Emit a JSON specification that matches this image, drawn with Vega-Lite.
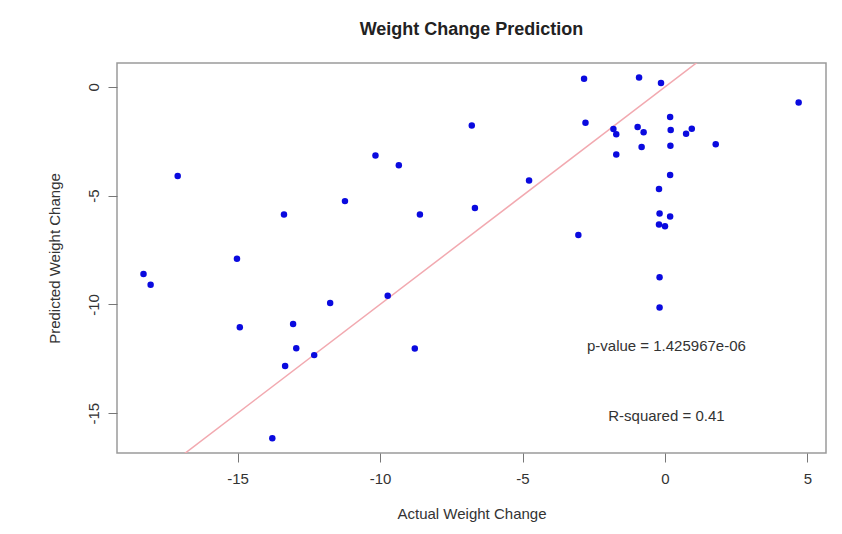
{
  "$schema": "https://vega.github.io/schema/vega-lite/v6.json",
  "width": 709,
  "height": 390,
  "autosize": {"type": "none"},
  "padding": {"left": 117, "top": 63, "right": 16, "bottom": 81},
  "background": "white",
  "title": {
    "text": "Weight Change Prediction",
    "fontSize": 18,
    "fontWeight": "bold",
    "font": "Liberation Sans",
    "color": "#222222",
    "anchor": "middle",
    "offset": 24
  },
  "config": {
    "font": "Liberation Sans",
    "view": {"stroke": "#9a9a9a", "strokeWidth": 1.5, "fill": "white"},
    "axis": {
      "grid": false,
      "domain": false,
      "tickColor": "#777777",
      "tickSize": 9,
      "tickWidth": 1,
      "labelFont": "Liberation Sans",
      "labelFontSize": 15,
      "labelColor": "#333333",
      "titleFont": "Liberation Sans",
      "titleFontSize": 15,
      "titleFontWeight": "normal",
      "titleColor": "#333333"
    }
  },
  "datasets": {
    "points": [
      {"actual": -18.3, "predicted": -8.6},
      {"actual": -18.05, "predicted": -9.1},
      {"actual": -17.1, "predicted": -4.1},
      {"actual": -15.02, "predicted": -7.9},
      {"actual": -14.92, "predicted": -11.05},
      {"actual": -13.37, "predicted": -5.86},
      {"actual": -13.33, "predicted": -12.83},
      {"actual": -13.78, "predicted": -16.15},
      {"actual": -13.05, "predicted": -10.9},
      {"actual": -12.94, "predicted": -12.01},
      {"actual": -12.31, "predicted": -12.33},
      {"actual": -11.75, "predicted": -9.93},
      {"actual": -11.23, "predicted": -5.25},
      {"actual": -10.16, "predicted": -3.15},
      {"actual": -9.73, "predicted": -9.6},
      {"actual": -9.34, "predicted": -3.6},
      {"actual": -8.78, "predicted": -12.03},
      {"actual": -8.6, "predicted": -5.87},
      {"actual": -6.78, "predicted": -1.77},
      {"actual": -6.67, "predicted": -5.57},
      {"actual": -4.77, "predicted": -4.3},
      {"actual": -3.04, "predicted": -6.81},
      {"actual": -2.84, "predicted": 0.38},
      {"actual": -2.79, "predicted": -1.65},
      {"actual": -0.91, "predicted": 0.43},
      {"actual": -0.14, "predicted": 0.18},
      {"actual": 4.69, "predicted": -0.72},
      {"actual": 0.18, "predicted": -1.38},
      {"actual": -1.81, "predicted": -1.93},
      {"actual": -1.71, "predicted": -2.18},
      {"actual": -0.96, "predicted": -1.84},
      {"actual": -0.75, "predicted": -2.08},
      {"actual": 0.2, "predicted": -1.98},
      {"actual": 0.74, "predicted": -2.15},
      {"actual": 0.94, "predicted": -1.92},
      {"actual": 1.78, "predicted": -2.64},
      {"actual": -1.71, "predicted": -3.11},
      {"actual": -0.82, "predicted": -2.76},
      {"actual": 0.19, "predicted": -2.7},
      {"actual": 0.18, "predicted": -4.05},
      {"actual": -0.21, "predicted": -4.69},
      {"actual": -0.19, "predicted": -5.82},
      {"actual": 0.18, "predicted": -5.96},
      {"actual": -0.21, "predicted": -6.33},
      {"actual": 0.0, "predicted": -6.41},
      {"actual": -0.19, "predicted": -8.75},
      {"actual": -0.19, "predicted": -10.14}
    ],
    "refline": [
      {"actual": -20, "predicted": -20},
      {"actual": 6, "predicted": 6}
    ],
    "notes": [
      {"actual": 0.05, "predicted": -11.9, "label": "p-value = 1.425967e-06"},
      {"actual": 0.05, "predicted": -15.15, "label": "R-squared = 0.41"}
    ]
  },
  "encoding": {
    "x": {
      "field": "actual",
      "type": "quantitative",
      "title": "Actual Weight Change",
      "scale": {"domain": [-19.23, 5.65], "nice": false, "zero": false},
      "axis": {"values": [-15, -10, -5, 0, 5], "labelExpr": "'' + datum.value", "labelPadding": 9, "titlePadding": 20}
    },
    "y": {
      "field": "predicted",
      "type": "quantitative",
      "title": "Predicted Weight Change",
      "scale": {"domain": [-16.83, 1.1], "nice": false, "zero": false},
      "axis": {"values": [0, -5, -10, -15], "labelExpr": "'' + datum.value", "labelAngle": -90, "labelAlign": "center", "labelBaseline": "bottom", "labelPadding": 7, "titlePadding": 24}
    }
  },
  "layer": [
    {
      "data": {"name": "refline"},
      "mark": {"type": "line", "color": "#f2a9b0", "strokeWidth": 1.5, "clip": true},
      "encoding": {}
    },
    {
      "data": {"name": "points"},
      "mark": {"type": "circle", "color": "#0a0adf", "opacity": 1, "size": 42}
    },
    {
      "data": {"name": "notes"},
      "mark": {"type": "text", "fontSize": 15, "color": "#333333", "align": "center", "baseline": "middle", "font": "Liberation Sans"},
      "encoding": {"text": {"field": "label", "type": "nominal"}}
    }
  ]
}
